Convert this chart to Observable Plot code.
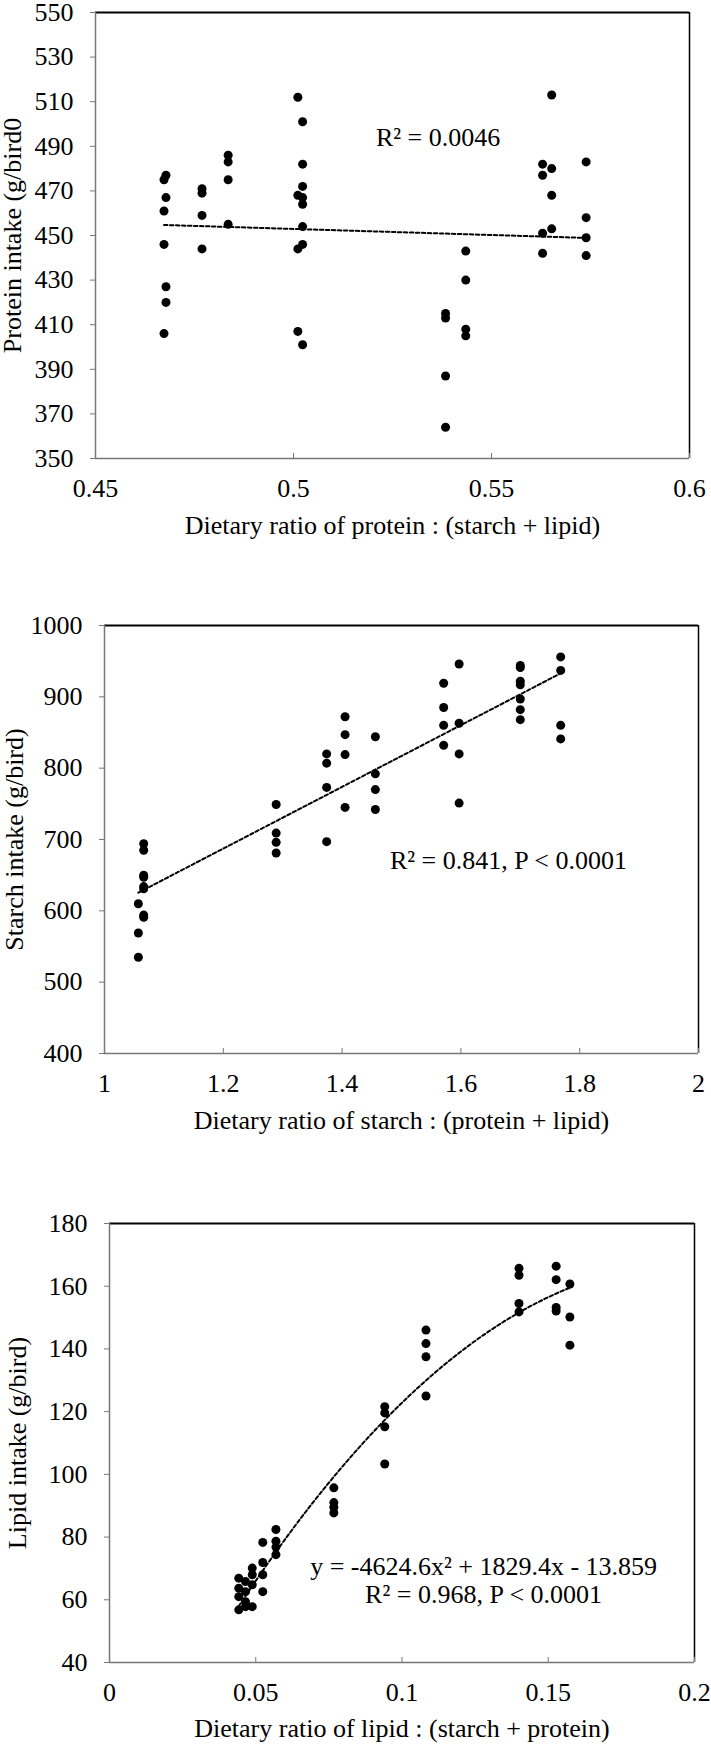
<!DOCTYPE html>
<html><head><meta charset="utf-8">
<script src="https://cdn.jsdelivr.net/npm/d3@7"></script>
<script src="https://cdn.jsdelivr.net/npm/@observablehq/plot@0.6"></script>
<style>
body{margin:0;background:#fff;}
#chart svg{display:block;}
</style></head><body><div id="chart"></div>
<script>
// ---------- Panel 1: protein ----------
const proteinRatio = [
  0.4678,0.4673,0.4678,0.4673,0.4673,0.4678,0.4678,0.4673,
  0.4769,0.4769,0.4769,0.4769,
  0.4835,0.4835,0.4835,0.4835,
  0.5011,0.5023,0.5023,0.5023,0.5011,0.5023,0.5023,0.5023,0.5023,0.5011,0.5011,0.5023,
  0.5384,0.5384,0.5384,0.5384,
  0.5435,0.5435,0.5435,0.5435,
  0.5652,0.5629,0.5652,0.5629,0.5652,0.5652,0.5629,0.5629,
  0.5739,0.5739,0.5739,0.5739
];
const proteinIntake = [
  477,475,467,461,446,427,420,406,
  471,469,459,444,
  486,483,475,455,
  512,501,482,472,468,467,464,454,446,444,407,401,
  415,413,387,364,
  443,430,408,405,
  513,482,480,477,468,453,451,442,
  483,458,449,441
];
const proteinXTicks = [0.45, 0.5, 0.55, 0.6];
const proteinYTicks = [350,370,390,410,430,450,470,490,510,530,550];
const proteinNote = [{x: 0.5365, y: 494, text: "R\u00b2 = 0.0046"}];

// ---------- Panel 2: starch ----------
const starchRatio = [
  1.057,1.057,1.057,
  1.066,1.066,1.066,1.066,1.066,1.066,1.066,1.066,
  1.289,1.289,1.289,1.289,
  1.374,1.374,1.374,1.374,
  1.405,1.405,1.405,1.405,
  1.456,1.456,1.456,1.456,
  1.571,1.571,1.571,1.571,
  1.597,1.597,1.597,1.597,
  1.700,1.700,1.700,1.700,1.700,1.700,1.700,
  1.768,1.768,1.768,1.768
];
const starchIntake = [
  610,569,535,
  694,685,650,647,634,631,594,591,
  749,709,696,681,
  820,807,773,697,
  872,847,819,745,
  844,792,770,742,
  919,885,860,832,
  946,863,820,751,
  944,941,922,917,897,882,868,
  956,937,860,841
];
const starchXTicks = [1, 1.2, 1.4, 1.6, 1.8, 2];
const starchYTicks = [400,500,600,700,800,900,1000];
const starchNote = [{x: 1.68, y: 670, text: "R\u00b2 = 0.841, P < 0.0001"}];

// ---------- Panel 3: lipid ----------
const lipidRatio = [
  0.1400,0.1400,0.1400,0.1400,
  0.1527,0.1527,0.1527,0.1527,
  0.1574,0.1574,0.1574,
  0.1082,0.1082,0.1082,0.1082,
  0.0941,0.0941,0.0941,0.0941,
  0.0767,0.0767,0.0767,0.0767,
  0.0569,0.0569,0.0569,0.0569,
  0.0524,0.0524,0.0524,0.0524,
  0.0488,0.0488,0.0488,0.0488,
  0.0465,0.0465,0.0465,0.0465,
  0.0442,0.0442,0.0442,0.0442
];
const lipidIntake = [
  165.7,163.5,154.5,151.8,
  166.4,162.1,153.2,152.1,
  160.7,150.2,141.2,
  146.0,141.7,137.5,125.0,
  121.6,119.6,115.2,103.3,
  95.7,91.0,89.5,87.7,
  82.4,78.7,76.8,74.4,
  78.3,71.9,68.0,62.6,
  70.1,68.0,64.8,57.8,
  65.8,62.6,59.4,57.8,
  66.9,63.7,61.0,56.8
];
const lipidXTicks = [0, 0.05, 0.1, 0.15, 0.2];
const lipidYTicks = [40,60,80,100,120,140,160,180];
const lipidFitCoef = [-4624.6, 1829.4, -13.859]; // y = a x^2 + b x + c (from the chart)
const lipidNotes = [
  {x: 0.1279, y: 70.5, text: "y = -4624.6x\u00b2 + 1829.4x - 13.859"},
  {x: 0.1279, y: 61.5, text: "R\u00b2 = 0.968, P < 0.0001"}
];

const FONT = "'Liberation Serif','Times New Roman',serif";
const FS = 26;
const DASH = "3.5,2.5";

function panel(o) {
  const rows = o.xs.map((x, i) => ({x, y: o.ys[i]}));
  const xd = [o.xTicks[0], o.xTicks[o.xTicks.length - 1]];
  const yd = [o.yTicks[0], o.yTicks[o.yTicks.length - 1]];
  const trend = o.fit
    ? o.fit(rows)
    : Plot.linearRegressionY(rows, {x: "x", y: "y", ci: 0, stroke: "#000", strokeWidth: 2, strokeDasharray: DASH});
  return Plot.plot({
    width: 711,
    height: o.height,
    marginTop: o.m[0], marginRight: o.m[1], marginBottom: o.m[2], marginLeft: o.m[3],
    style: {fontFamily: FONT, fontSize: FS + "px", color: "#000", background: "#fff", overflow: "visible"},
    x: {domain: xd},
    y: {domain: yd},
    marks: [
      Plot.ruleY([yd[1]], {stroke: "#000", strokeWidth: 2}),
      Plot.ruleX([xd[1]], {stroke: "#000", strokeWidth: 1.5}),
      Plot.ruleX([xd[0]], {stroke: "#777", strokeWidth: 1.5}),
      Plot.ruleY([yd[0]], {stroke: "#777", strokeWidth: 1.5}),
      Plot.axisY({ticks: o.yTicks, tickFormat: d => String(d), tickSize: 5, tickPadding: 17, stroke: "#777",
        label: o.yLabel, labelAnchor: "center", labelOffset: o.yLabelOffset, labelArrow: "none", fontSize: FS}),
      Plot.axisX({ticks: o.xTicks, tickSize: -5, stroke: "#777", fill: "none", label: null}),
      Plot.axisX({ticks: o.xTicks, tickFormat: d => String(d), tickSize: 0, tickPadding: 20,
        label: o.xLabel, labelAnchor: "center", labelOffset: o.xLabelOffset, labelArrow: "none", fontSize: FS}),
      Plot.dot(rows, {x: "x", y: "y", r: 4.5, fill: "#000", stroke: "none"}),
      trend,
      Plot.text(o.notes, {x: "x", y: "y", text: "text", fontSize: FS, textAnchor: "middle", fill: "#000"})
    ]
  });
}

const chart = document.getElementById("chart");
chart.append(panel({
  xs: proteinRatio, ys: proteinIntake, xTicks: proteinXTicks, yTicks: proteinYTicks,
  xLabel: "Dietary ratio of protein : (starch + lipid)", yLabel: "Protein intake (g/bird0",
  height: 570, m: [12, 22, 112, 95], yLabelOffset: 93, xLabelOffset: 75, notes: proteinNote
}));
chart.append(panel({
  xs: starchRatio, ys: starchIntake, xTicks: starchXTicks, yTicks: starchYTicks,
  xLabel: "Dietary ratio of starch : (protein + lipid)", yLabel: "Starch intake (g/bird)",
  height: 600, m: [55, 13, 117, 104], yLabelOffset: 100, xLabelOffset: 75, notes: starchNote
}));
chart.append(panel({
  xs: lipidRatio, ys: lipidIntake, xTicks: lipidXTicks, yTicks: lipidYTicks,
  xLabel: "Dietary ratio of lipid : (starch + protein)", yLabel: "Lipid intake (g/bird)",
  height: 577, m: [53, 17, 85, 109], yLabelOffset: 102, xLabelOffset: 74, notes: lipidNotes,
  fit: rows => {
    const [a, b, c] = lipidFitCoef;
    const [lo, hi] = d3.extent(rows, d => d.x);
    const pts = d3.range(0, 81).map(i => { const x = lo + (hi - lo) * i / 80; return {x, y: a * x * x + b * x + c}; });
    return Plot.line(pts, {x: "x", y: "y", stroke: "#000", strokeWidth: 2, strokeDasharray: DASH});
  }
}));
</script></body></html>
